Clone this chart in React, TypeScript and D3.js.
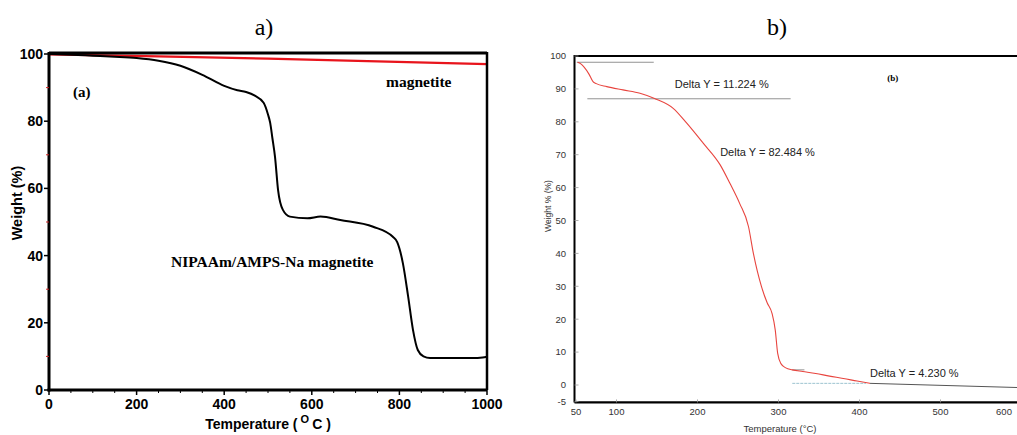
import * as d3 from "d3";

// ---- panel a data (TGA, 0-1000 °C) ----
const aTemp = [0, 50, 100, 150, 200, 250, 300, 350, 400, 430, 450, 470, 490, 500, 505, 510, 516, 523, 534, 550, 590, 620, 665, 740, 785, 795, 808, 820, 831, 842, 855, 870, 968, 990, 1000];
const aHybrid = [100, 99.8, 99.5, 99.2, 98.8, 98.0, 96.5, 93.8, 90.5, 89.2, 88.7, 87.6, 85.5, 82, 79.5, 75, 69.4, 59.5, 53.6, 51.6, 51.1, 51.6, 50.6, 48.6, 45.6, 44, 37.7, 27.8, 17.9, 11.9, 10, 9.5, 9.5, 9.7, 9.9];
const aMagTemp = [0, 250, 500, 750, 1000];
const aMag = [99.9, 99.3, 98.6, 97.8, 97.0];
const aXTicks = [0, 200, 400, 600, 800, 1000];
const aYTicks = [0, 20, 40, 60, 80, 100];

// ---- panel b data (50-600 °C) ----
const bTemp = [52, 56, 60, 66, 71, 75, 88, 108, 129, 147, 170, 187, 207, 228, 240, 252, 263, 269, 279, 286, 292, 296, 299, 303, 309, 317, 330, 346, 363, 380, 397, 413];
const bWeight = [98.1, 97.6, 96.6, 94.5, 92.2, 91.6, 90.7, 89.7, 88.7, 87.1, 84.1, 79.5, 73.5, 66.9, 61.3, 55.2, 48.1, 40, 29.9, 25, 21.8, 16.7, 9.6, 6.5, 5.2, 4.6, 4.1, 3.5, 2.7, 2.0, 1.2, 0.5];
const bTailTemp = [413, 600];
const bTailWeight = [0.5, -0.8];
const bXTicks = [50, 100, 200, 300, 400, 500, 600];
const bYTicks = [-5, 0, 10, 20, 30, 40, 50, 60, 70, 80, 90, 100];
const deltaLabels = ["Delta Y = 11.224 %", "Delta Y = 82.484 %", "Delta Y = 4.230 %"];

const sans = "'Liberation Sans', Arial, sans-serif";
const serif = "'Liberation Serif', 'Times New Roman', serif";

function PanelA() {
  const x = d3.scaleLinear().domain([0, 1000]).range([49, 487]);
  const y = d3.scaleLinear().domain([0, 100]).range([390, 54]);
  const line = d3
    .line<number>()
    .x((_, i) => x(aTemp[i]))
    .y((d) => y(d))
    .curve(d3.curveMonotoneX);
  const magLine = d3
    .line<number>()
    .x((_, i) => x(aMagTemp[i]))
    .y((d) => y(d));
  const minorX = d3.range(0, 1001, 50).filter((v) => v % 200 !== 0);
  const minorY = d3.range(0, 101, 10).filter((v) => v % 20 !== 0);

  return (
    <g>
      <text x={264} y={35} textAnchor="middle" fontFamily={serif} fontSize={24}>
        a)
      </text>

      {/* curves */}
      <path d={magLine(aMag) ?? ""} fill="none" stroke="#e8141c" strokeWidth={2.2} />
      <path d={line(aHybrid) ?? ""} fill="none" stroke="#000" strokeWidth={2} />

      {/* frame */}
      <line x1={x(0)} x2={x(1000)} y1={53} y2={53} stroke="#000" strokeWidth={3} />
      <line x1={x(1000)} x2={x(1000)} y1={52} y2={y(0)} stroke="#000" strokeWidth={2.5} />
      <line x1={x(0)} x2={x(0)} y1={52} y2={y(0) + 1.5} stroke="#000" strokeWidth={3} />
      <line x1={x(0) - 1.5} x2={x(1000)} y1={y(0)} y2={y(0)} stroke="#000" strokeWidth={3} />

      {/* y axis */}
      {aYTicks.map((t) => (
        <g key={t}>
          <line x1={x(0) - 5} x2={x(0)} y1={y(t)} y2={y(t)} stroke="#000" strokeWidth={1.5} />
          <text x={43} y={y(t)} dy="0.35em" textAnchor="end" fontFamily={sans} fontWeight="bold" fontSize={14}>
            {t}
          </text>
        </g>
      ))}
      {minorY.map((t) => (
        <line key={t} x1={x(0) - 3} x2={x(0)} y1={y(t)} y2={y(t)} stroke="#c22" strokeWidth={1} />
      ))}

      {/* x axis */}
      {aXTicks.map((t) => (
        <g key={t}>
          <line x1={x(t)} x2={x(t)} y1={y(0)} y2={y(0) + 5} stroke="#000" strokeWidth={1.5} />
          <text x={x(t)} y={409} textAnchor="middle" fontFamily={sans} fontWeight="bold" fontSize={14}>
            {t}
          </text>
        </g>
      ))}
      {minorX.map((t) => (
        <line key={t} x1={x(t)} x2={x(t)} y1={y(0)} y2={y(0) + 3} stroke="#000" strokeWidth={1} />
      ))}

      <text
        transform="translate(22,203) rotate(-90)"
        textAnchor="middle"
        fontFamily={sans}
        fontWeight="bold"
        fontSize={14.5}
      >
        Weight (%)
      </text>
      <text x={268} y={429} textAnchor="middle" fontFamily={sans} fontWeight="bold" fontSize={14}>
        Temperature (<tspan dy={-6} fontSize={11}> O </tspan>
        <tspan dy={6}>C )</tspan>
      </text>

      <text x={73} y={97} fontFamily={serif} fontWeight="bold" fontSize={15}>
        (a)
      </text>
      <text x={386} y={87} fontFamily={serif} fontWeight="bold" fontSize={15.5}>
        magnetite
      </text>
      <text x={171} y={267} fontFamily={serif} fontWeight="bold" fontSize={15.5}>
        NIPAAm/AMPS-Na magnetite
      </text>
    </g>
  );
}

function PanelB() {
  const x = d3.scaleLinear().domain([50, 600]).range([576, 1021.5]);
  const y = d3.scaleLinear().domain([0, 100]).range([385, 56]);
  const line = d3
    .line<number>()
    .x((_, i) => x(bTemp[i]))
    .y((d) => y(d))
    .curve(d3.curveMonotoneX);
  const tail = d3
    .line<number>()
    .x((_, i) => x(bTailTemp[i]))
    .y((d) => y(d));
  const axisX = 574.5;
  const bottom = y(-5) + 1;

  return (
    <g>
      <text x={777} y={35} textAnchor="middle" fontFamily={serif} fontSize={24}>
        b)
      </text>

      {/* step reference lines */}
      <line x1={x(51)} x2={x(146)} y1={y(98.1)} y2={y(98.1)} stroke="#777" strokeWidth={0.8} />
      <line x1={x(64)} x2={x(315)} y1={y(87)} y2={y(87)} stroke="#777" strokeWidth={0.8} />
      <line x1={x(317)} x2={x(332)} y1={y(4.6)} y2={y(4.6)} stroke="#777" strokeWidth={0.8} />
      <line x1={x(317)} x2={x(408)} y1={y(0.5)} y2={y(0.5)} stroke="#9cc3d0" strokeWidth={1} strokeDasharray="3 1" />

      <path d={line(bWeight) ?? ""} fill="none" stroke="#e8453f" strokeWidth={1.1} />
      <path d={tail(bTailWeight) ?? ""} fill="none" stroke="#555" strokeWidth={1} />

      {/* frame */}
      <line x1={axisX} x2={1017} y1={56} y2={56} stroke="#000" strokeWidth={2.2} />
      <line x1={axisX} x2={axisX} y1={55} y2={bottom} stroke="#000" strokeWidth={2} />
      <line x1={axisX} x2={1017} y1={bottom} y2={bottom} stroke="#000" strokeWidth={2.2} />

      {bYTicks.map((t) => (
        <g key={t}>
          <line x1={axisX} x2={axisX + 4} y1={y(t)} y2={y(t)} stroke="#999" strokeWidth={0.8} />
          <text x={566} y={y(t)} dy="0.35em" textAnchor="end" fontFamily={sans} fontSize={9.5} fill="#333">
            {t}
          </text>
        </g>
      ))}
      {bXTicks.map((t) => (
        <g key={t}>
          <line x1={x(t)} x2={x(t)} y1={bottom - 3} y2={bottom} stroke="#999" strokeWidth={0.8} />
          <text x={Math.min(x(t), 1004)} y={415} textAnchor="middle" fontFamily={sans} fontSize={9.5} fill="#333">
            {t}
          </text>
        </g>
      ))}

      <text
        transform="translate(551,206) rotate(-90)"
        textAnchor="middle"
        fontFamily={sans}
        fontSize={8.5}
        fill="#333"
      >
        Weight % (%)
      </text>
      <text x={780} y={432} textAnchor="middle" fontFamily={sans} fontSize={9.5} fill="#333">
        Temperature (°C)
      </text>

      <text x={x(172)} y={y(90.3)} fontFamily={sans} fontSize={11} fill="#222">
        {deltaLabels[0]}
      </text>
      <text x={x(228)} y={y(69.6)} fontFamily={sans} fontSize={11} fill="#222">
        {deltaLabels[1]}
      </text>
      <text x={x(413)} y={y(2.4)} fontFamily={sans} fontSize={11} fill="#222">
        {deltaLabels[2]}
      </text>
      <text x={x(441)} y={y(92.4)} textAnchor="middle" fontFamily={serif} fontWeight="bold" fontSize={9}>
        (b)
      </text>
    </g>
  );
}

export default function App() {
  return (
    <svg
      width={1017}
      height={435}
      style={{ position: "absolute", left: 0, top: 0, background: "#fff" }}
    >
      <rect width={1017} height={435} fill="#fff" />
      <PanelA />
      <PanelB />
    </svg>
  );
}
